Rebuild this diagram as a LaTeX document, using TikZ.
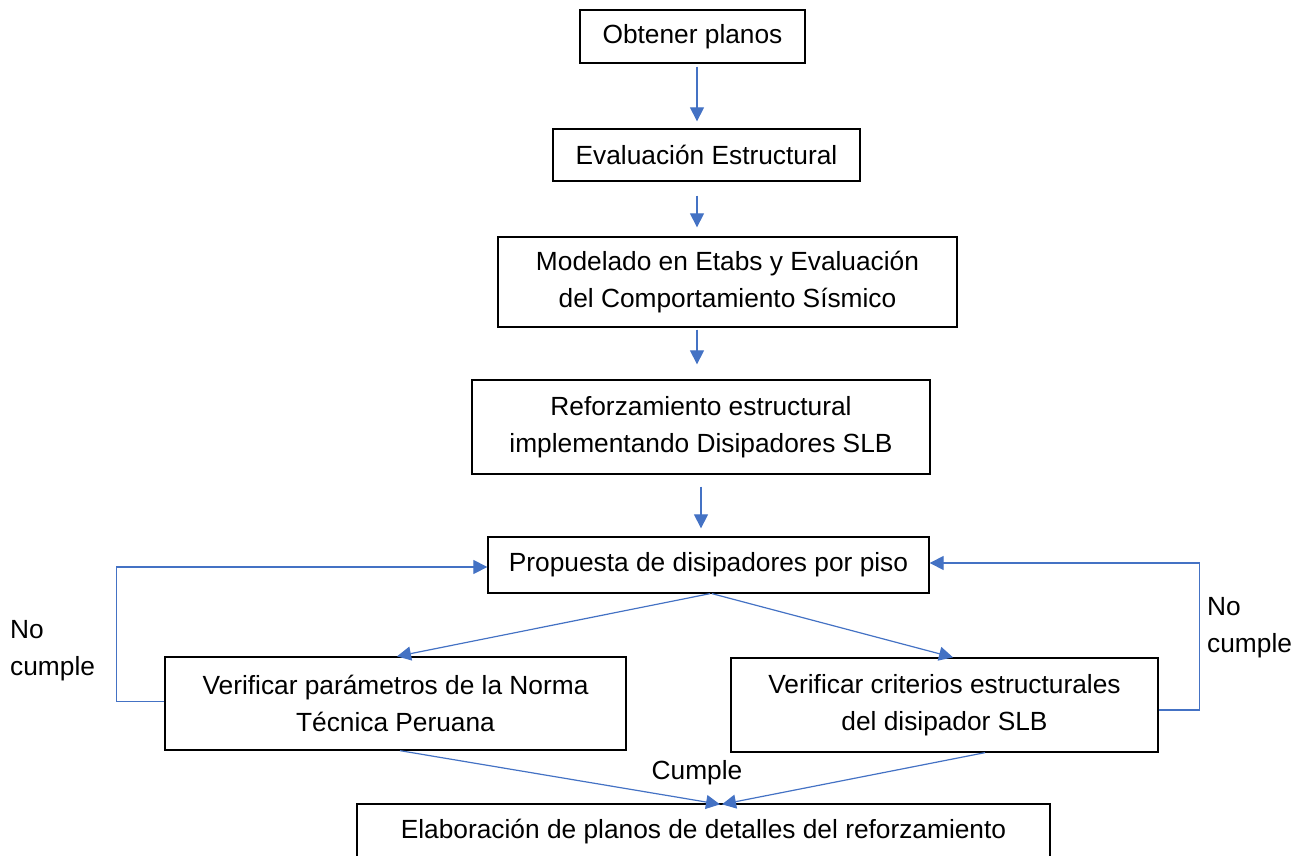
\documentclass[tikz,border=0pt]{standalone}
\usepackage{fontspec}
\setmainfont{Liberation Sans}
\usetikzlibrary{arrows.meta,positioning}
\definecolor{lineblue}{HTML}{4472C4}
\tikzset{
  font=\fontsize{26.3}{37}\selectfont,
  box/.style={
    draw,
    line width=1.3pt,
    align=center,
    inner sep=0pt
  },
  lbl/.style={
    align=left,
    inner sep=0pt
  },
  arrow/.style={-{Triangle[width=14pt,length=14pt]}, draw=lineblue, line width=1.2pt},
  loopline/.style={-{Triangle[width=14pt,length=14pt]}, draw=lineblue, line width=1.2pt}
}
\begin{document}
\begin{tikzpicture}[x=1pt,y=-1pt]
\useasboundingbox (0,0) rectangle (1307,856);
\clip (0,0) rectangle (1307,856);

\node[box, minimum width=225pt, minimum height=53pt] (planos) at (692.5,36.5) {Obtener planos};
\node[box, minimum width=307pt, minimum height=52pt] (evalest) at (706.5,155) {Evaluación Estructural};
\node[box, minimum width=459pt, minimum height=90pt] (modelado) at (727.5,282) {Modelado en Etabs y Evaluación\\del Comportamiento Sísmico};
\node[box, minimum width=458pt, minimum height=94pt] (refuerzo) at (701,427) {Reforzamiento estructural\\implementando Disipadores SLB};
\node[box, minimum width=441pt, minimum height=56pt] (propuesta) at (708.5,565) {Propuesta de disipadores por piso};
\node[box, minimum width=461pt, minimum height=93pt] (norma) at (395.5,703.5) {Verificar parámetros de la Norma\\Técnica Peruana};
\node[box, minimum width=427pt, minimum height=94pt] (criterios) at (944.5,705) {Verificar criterios estructurales\\del disipador SLB};
\node[box, minimum width=693pt, minimum height=56pt] (detalles) at (703.5,832) {Elaboración de planos de detalles del reforzamiento};

% Labels
\node[lbl, anchor=west] (nocumpleL) at (10,651) {No\\cumple};
\node[lbl, anchor=west] (nocumpleR) at (1207,628) {No\\cumple};
\node[lbl] (cumple) at (697,773) {Cumple};

% Arrows main flow
\draw[arrow] ([xshift=4.5pt,yshift=-3pt]planos.south) -- ([xshift=-9.5pt,yshift=7pt]evalest.north);
\draw[arrow] ([xshift=-9.5pt,yshift=-14pt]evalest.south) -- ([xshift=-30.5pt,yshift=9pt]modelado.north);
\draw[arrow] ([xshift=-30.5pt,yshift=-2pt]modelado.south) -- ([xshift=-4pt,yshift=15pt]refuerzo.north);
\draw[arrow] ([yshift=-12pt]refuerzo.south) -- ([xshift=-7.5pt,yshift=8pt]propuesta.north);

% Branch arrows
\draw[arrow] ([xshift=1.5pt]propuesta.south) -- ([xshift=1.5pt]norma.north);
\draw[arrow] ([xshift=3.5pt]propuesta.south) -- ([xshift=8.5pt]criterios.north);
\draw[arrow] ([xshift=4.5pt]norma.south) -- ([xshift=16.5pt,yshift=-1pt]detalles.north);
\draw[arrow] ([xshift=40.5pt]criterios.south) -- ([xshift=18.5pt,yshift=-1pt]detalles.north);

% Loops back
\draw[loopline] ([yshift=2pt]norma.west) -- ++(-48,0) |- ([yshift=-2pt]propuesta.west);
\draw[loopline] ([yshift=-5pt]criterios.east) -- ++(41,0) |- ([yshift=2pt]propuesta.east);

\end{tikzpicture}
\end{document}
